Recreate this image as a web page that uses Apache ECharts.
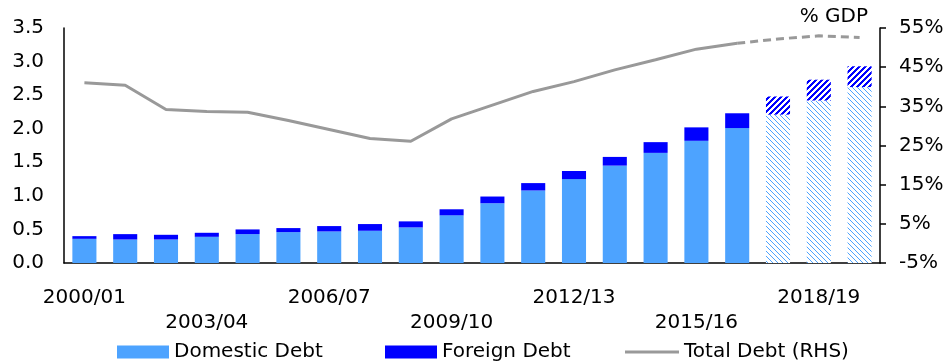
<!DOCTYPE html>
<html>
<head>
<meta charset="utf-8">
<script src="https://cdn.jsdelivr.net/npm/echarts@6/dist/echarts.min.js"></script>
<style>
  html, body { margin: 0; padding: 0; background: #fff; }
  #chart { width: 948px; height: 364px; }
</style>
</head>
<body>
<div id="chart"></div>
<script>
// Fiscal years
const categories = ['2000/01','2001/02','2002/03','2003/04','2004/05','2005/06','2006/07','2007/08',
  '2008/09','2009/10','2010/11','2011/12','2012/13','2013/14','2014/15','2015/16','2016/17',
  '2017/18','2018/19','2019/20'];
// Debt stock (LHS)
const domesticDebt = [0.36,0.35,0.35,0.39,0.43,0.46,0.47,0.48,0.53,0.71,0.89,1.08,1.25,1.45,1.64,1.82,2.01,2.21,2.42,2.62];
const foreignDebt  = [0.04,0.08,0.07,0.06,0.07,0.06,0.08,0.10,0.09,0.09,0.10,0.11,0.12,0.13,0.16,0.20,0.22,0.27,0.31,0.31];
// Total debt, % of GDP (RHS)
const totalDebtPct = [41.0,40.4,34.2,33.7,33.5,31.4,29.1,26.8,26.1,31.8,35.3,38.8,41.3,44.3,46.9,49.6,51.1,52.2,53.0,52.6];
// First projected year
const forecastStart = 17;
// Axis ticks
const leftTicks = { min: 0, max: 3.5, interval: 0.5 };
const rightTicks = { min: -5, max: 55, interval: 10 };

const FONT = 'DejaVu Sans';
const DOM_COLOR = '#4da3ff';
const FOR_COLOR = '#0000ff';
const LINE_COLOR = '#999999';

// Diagonal hatch patterns for projected bars
function hatch(size, color, test) {
  const c = document.createElement('canvas');
  c.width = size; c.height = size;
  const ctx = c.getContext('2d');
  ctx.fillStyle = '#ffffff';
  ctx.fillRect(0, 0, size, size);
  ctx.fillStyle = color;
  for (let x = 0; x < size; x++) {
    for (let y = 0; y < size; y++) {
      if (test(x, y, size)) ctx.fillRect(x, y, 1, 1);
    }
  }
  return { image: c, repeat: 'repeat' };
}
const domHatch = hatch(5, DOM_COLOR, (x, y, s) => ((x - y) % s + s) % s === 0);
const forHatch = hatch(6, FOR_COLOR, (x, y, s) => (x + y) % s < 3);

function barData(values, pattern) {
  return values.map((v, i) => i >= forecastStart ? { value: v, itemStyle: { color: pattern } } : v);
}

const solidLine = totalDebtPct.map((v, i) => i < forecastStart ? v : null);
const dashedLine = totalDebtPct.map((v, i) => i >= forecastStart - 1 ? v : null);

const chart = echarts.init(document.getElementById('chart'), null, { renderer: 'canvas' });
const textBase = { fontFamily: FONT, fontSize: 20, color: '#000' };

chart.setOption({
  animation: false,
  backgroundColor: '#fff',
  grid: { left: 64, right: 68, top: 28, bottom: 101 },
  legend: [
    { data: ['Domestic Debt'], left: 112, top: 337, itemWidth: 52, itemHeight: 13, textStyle: textBase, icon: 'rect' },
    { data: ['Foreign Debt'], left: 380, top: 337, itemWidth: 52, itemHeight: 13, textStyle: textBase, icon: 'rect' },
    { data: ['Total Debt (RHS)'], left: 620, top: 337, itemWidth: 54, itemHeight: 3, textStyle: textBase, icon: 'rect' }
  ],
  graphic: [
    { type: 'text', right: 80, top: 7, style: { text: '% GDP', font: '20px "DejaVu Sans"', fill: '#000' } }
  ],
  xAxis: {
    type: 'category',
    data: categories,
    boundaryGap: true,
    axisLine: { lineStyle: { color: '#000', width: 1.5 } },
    axisTick: { show: false },
    axisLabel: {
      ...textBase,
      margin: 22,
      lineHeight: 25,
      interval: (i) => i % 3 === 0,
      formatter: (v, i) => (i % 6 === 3 ? '\n' + v : v)
    },
    splitLine: { show: false }
  },
  yAxis: [
    {
      type: 'value',
      min: leftTicks.min, max: leftTicks.max, interval: leftTicks.interval,
      axisLine: { show: true, lineStyle: { color: '#000', width: 1.5 } },
      axisTick: { show: false },
      splitLine: { show: false },
      axisLabel: { ...textBase, margin: 20, formatter: (v) => v.toFixed(1) }
    },
    {
      type: 'value',
      position: 'right',
      min: rightTicks.min, max: rightTicks.max, interval: rightTicks.interval,
      axisLine: { show: true, lineStyle: { color: '#000', width: 1.5 } },
      axisTick: { show: true, inside: false, length: 6, lineStyle: { color: '#000', width: 1.5 } },
      splitLine: { show: false },
      axisLabel: { ...textBase, margin: 19, formatter: (v) => v + '%' }
    }
  ],
  series: [
    {
      name: 'Domestic Debt', type: 'bar', stack: 'debt', barWidth: '59%',
      itemStyle: { color: DOM_COLOR },
      data: barData(domesticDebt, domHatch)
    },
    {
      name: 'Foreign Debt', type: 'bar', stack: 'debt', barWidth: '59%',
      itemStyle: { color: FOR_COLOR },
      data: barData(foreignDebt, forHatch)
    },
    {
      name: 'Total Debt (RHS)', type: 'line', yAxisIndex: 1, symbol: 'none',
      lineStyle: { color: LINE_COLOR, width: 3 },
      itemStyle: { color: LINE_COLOR },
      data: solidLine
    },
    {
      name: 'Total Debt projection', type: 'line', yAxisIndex: 1, symbol: 'none',
      lineStyle: { color: LINE_COLOR, width: 3, type: [8, 5] },
      itemStyle: { color: LINE_COLOR },
      data: dashedLine
    }
  ]
});
</script>
</body>
</html>
